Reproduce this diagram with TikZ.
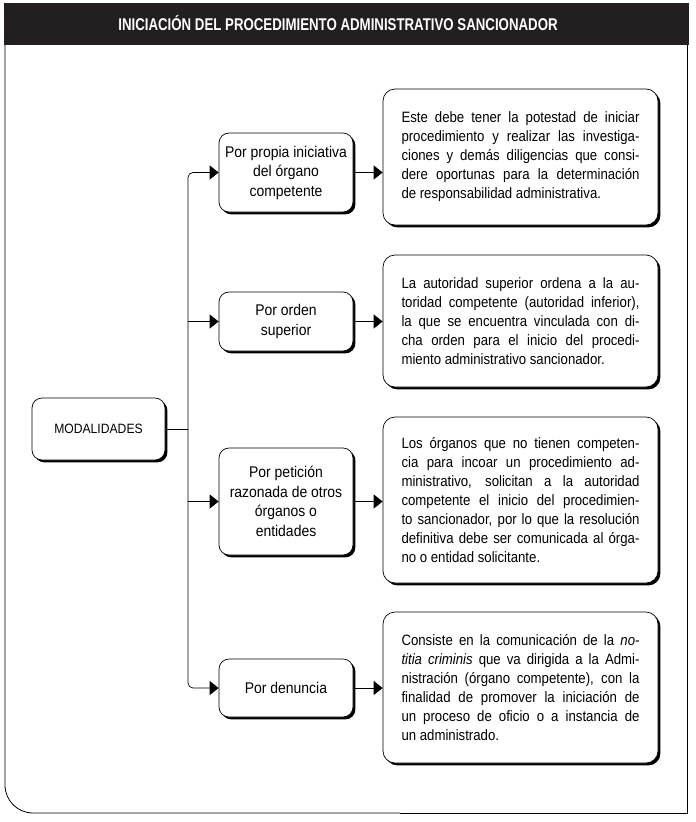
\documentclass[tikz,border=0pt]{standalone}
\usepackage{fontspec}
\setmainfont{Liberation Sans}[FakeStretch=0.88]
\newfontfamily\midfont{Liberation Sans}[FakeStretch=0.9]
\newfontfamily\titlefont{Liberation Sans}[FakeStretch=0.78]
\usetikzlibrary{arrows.meta,shadows}
\definecolor{barcol}{HTML}{231F20}
\newcommand{\jl}[1]{\makebox[238pt][s]{#1}}
\begin{document}
\begin{tikzpicture}[x=1pt,y=-1pt,
  frame/.style={line width=0.8pt},
  sbox/.style={draw=black,line width=0.7pt,fill=white,
    general shadow={fill=black,shadow xshift=2.4pt,shadow yshift=-2.4pt}},
  modbox/.style={sbox,rounded corners=10pt,minimum width=133pt,minimum height=62pt,
    font=\midfont\fontsize{13.5}{16}\selectfont},
  midbox/.style={sbox,rounded corners=10pt,minimum width=134pt,align=center,
    inner xsep=3pt,font=\midfont\fontsize{15.5}{19.5}\selectfont},
  descbox/.style={sbox,rounded corners=12pt,minimum width=275pt,inner xsep=18.5pt,
    align=left,font=\fontsize{15}{19}\selectfont},
  conn/.style={line width=0.7pt},
  arr/.style={conn,-{Triangle[length=9pt,width=14pt]}}]
\useasboundingbox (0,0) rectangle (696,822);
% frame and title bar
\fill[barcol] (4,3) rectangle (689,45);
\node[text=white,font=\titlefont\bfseries\fontsize{17}{19}\selectfont] (title) at (338,23)
  {INICIACIÓN DEL PROCEDIMIENTO ADMINISTRATIVO SANCIONADOR};
\draw[frame,rounded corners=28pt] (5,45) -- (5,813) -- (400,813);
\draw[frame] (400,813) -- (687,813) -- (687,45);
% nodes
\node[modbox] (mod) at (98.5,429) {MODALIDADES};
\node[midbox,minimum height=79pt] (m1) at (286,172.5) {Por propia iniciativa\\del órgano\\competente};
\node[midbox,minimum height=59pt] (m2) at (286,321.5) {Por orden\\superior};
\node[midbox,minimum height=107pt] (m3) at (286,501.5) {Por petición\\razonada de otros\\órganos o\\entidades};
\node[midbox,minimum height=58pt] (m4) at (286,688) {Por denuncia};
\node[descbox,minimum height=136pt] (r1) at (520.5,157) {%
\jl{Este debe tener la potestad de iniciar}\\
\jl{procedimiento y realizar las investiga-}\\
\jl{ciones y demás diligencias que consi-}\\
\jl{dere oportunas para la determinación}\\
de responsabilidad administrativa.};
\node[descbox,minimum height=132pt] (r2) at (520.5,321) {%
\jl{La autoridad superior ordena a la au-}\\
\jl{toridad competente (autoridad inferior),}\\
\jl{la que se encuentra vinculada con di-}\\
\jl{cha orden para el inicio del procedi-}\\
miento administrativo sancionador.};
\node[descbox,minimum height=166pt] (r3) at (520.5,500) {%
\jl{Los órganos que no tienen competen-}\\
\jl{cia para incoar un procedimiento ad-}\\
\jl{ministrativo, solicitan a la autoridad}\\
\jl{competente el inicio del procedimien-}\\
\jl{to sancionador, por lo que la resolución}\\
\jl{definitiva debe ser comunicada al órga-}\\
no o entidad solicitante.};
\node[descbox,minimum height=151pt] (r4) at (520.5,687.5) {%
\jl{Consiste en la comunicación de la \textit{no-}}\\
\jl{\textit{titia criminis} que va dirigida a la Admi-}\\
\jl{nistración (órgano competente), con la}\\
\jl{finalidad de promover la iniciación de}\\
\jl{un proceso de oficio o a instancia de}\\
un administrado.};
% connectors
\coordinate (jt) at (188,429);
\draw[conn] (mod.east) -- (jt);
\draw[arr,rounded corners=5pt] (jt) |- (m1.west);
\draw[arr,rounded corners=5pt] (jt) |- (m4.west);
\draw[arr] (m2.west -| jt) -- (m2.west);
\draw[arr] (m3.west -| jt) -- (m3.west);
\draw[arr] (m1.east) -- (m1.east -| r1.west);
\draw[arr] (m2.east) -- (m2.east -| r2.west);
\draw[arr] (m3.east) -- (m3.east -| r3.west);
\draw[arr] (m4.east) -- (m4.east -| r4.west);
\end{tikzpicture}
\end{document}
